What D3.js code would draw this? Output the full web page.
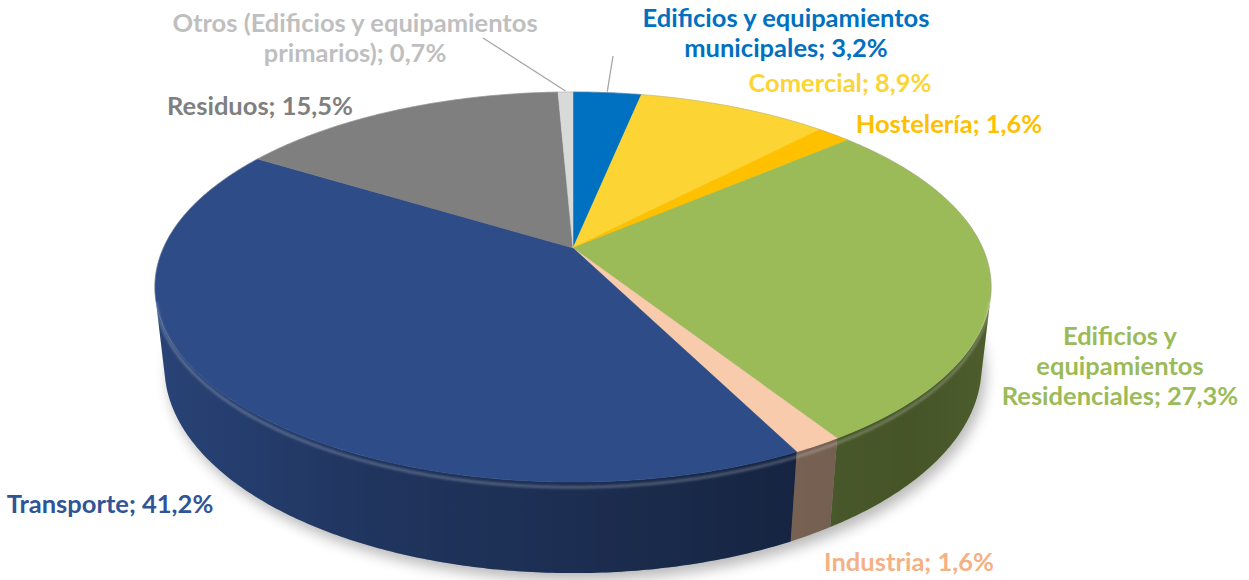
<!DOCTYPE html>
<html>
<head>
<meta charset="utf-8">
<script src="https://cdn.jsdelivr.net/npm/d3@7"></script>
<style>
  body { margin: 0; background: #fff; }
  svg { display: block; }
  text { font-family: Lato, "Open Sans", sans-serif; font-weight: bold; }
</style>
</head>
<body>
<div id="chart"></div>
<script>
// data (clockwise from 12 o'clock)
const categories = ['Edificios y equipamientos municipales', 'Comercial', 'Hostelería',
    'Edificios y equipamientos Residenciales', 'Industria', 'Transporte', 'Residuos',
    'Otros (Edificios y equipamientos primarios)'];
const shares = [3.2, 8.9, 1.6, 27.3, 1.6, 41.2, 15.5, 0.7];
const shareLabels = ['3,2%', '8,9%', '1,6%', '27,3%', '1,6%', '41,2%', '15,5%', '0,7%'];

const sliceColours = ['#0070c0', '#fcd535', '#ffc000', '#9bbb59', '#f8cbad', '#2e4c87', '#7f7f7f', '#d9d9d9'];
const labelColours = ['#0070c0', '#fcd535', '#ffc000', '#9bbb59', '#f4b183', '#2f5597', '#7f7f7f', '#bfbfbf'];

// label placement: first baseline, words on each line but the last, leader line start
const labelLayout = [
     {x: 786, y: 27, lines: [3], leader: [613, 56]},
     {x: 840, y: 92, lines: []},
     {x: 949, y: 133, lines: []},
     {x: 1120, y: 345, lines: [2, 1]},
     {x: 909, y: 571, lines: []},
     {x: 110, y: 513, lines: []},
     {x: 260, y: 115, lines: []},
     {x: 355, y: 32, lines: [4], leader: [483, 38]}
];

const width = 1249;
const height = 580;
const fontSize = 25.5;
const lineGap = 30;

// perspective set-up for the 3D disc
const tilt = 27.2 * Math.PI / 180;
const sinT = Math.sin(tilt), cosT = Math.cos(tilt);
const camDist = 4.445;
const focal = 1821;
const cx = 573, cy = 248;
const thickness = 0.22;

function project(theta, r, z) {
     const x = r * Math.sin(theta), y = r * Math.cos(theta);
     const up = y * sinT + z * cosT;
     const d = y * cosT - z * sinT;
     const k = focal / (camDist + d);
     return [cx + x * k, cy - up * k];
}

function arcPoints(a, b, z) {
     const n = Math.max(2, Math.ceil(Math.abs(b - a) / 0.01));
     return d3.range(n + 1).map(i => project(a + (b - a) * i / n, 1, z));
}

// walls facing the camera
const visLimit = Math.acos(-1 / (camDist * cosT));
const visFrom = visLimit, visTo = 2 * Math.PI - visLimit;

const line = d3.line();

window.onload = function() {

     const svg = d3.select('#chart')
          .append('svg')
               .attr('width', width)
               .attr('height', height);

     const defs = svg.append('defs');

     defs.append('filter')
          .attr('id', 'blur')
          .attr('x', '-20%').attr('y', '-20%')
          .attr('width', '140%').attr('height', '140%')
          .append('feGaussianBlur')
               .attr('stdDeviation', 7);

     defs.append('filter')
          .attr('id', 'soft')
          .append('feGaussianBlur')
               .attr('stdDeviation', 1.2);

     const shade = defs.append('linearGradient')
          .attr('id', 'shade')
          .attr('gradientUnits', 'userSpaceOnUse')
          .attr('x1', 155).attr('x2', 995)
          .attr('y1', 0).attr('y2', 0);
     [[0, 0.12], [0.25, 0.3], [0.5, 0.4], [0.75, 0.52], [0.9, 0.55], [1, 0.5]].forEach(s => {
          shade.append('stop')
               .attr('offset', s[0])
               .attr('stop-color', '#000')
               .attr('stop-opacity', s[1]);
     });

     const arcs = d3.pie()
          .sort(null)
          .value(d => d)(shares);

     // soft shadow under the disc
     svg.append('path')
          .attr('d', line(arcPoints(0, 2 * Math.PI, -thickness)) + 'Z')
          .attr('transform', 'translate(4, 7)')
          .attr('fill', '#000')
          .attr('opacity', 0.28)
          .attr('filter', 'url(#blur)');

     // side walls
     const walls = arcs.map((a, i) => {
          const s = Math.max(a.startAngle, visFrom);
          const e = Math.min(a.endAngle, visTo);
          if (s >= e) return null;
          const pts = arcPoints(s, e, 0).concat(arcPoints(e, s, -thickness));
          return {i: i, d: line(pts) + 'Z'};
     }).filter(w => w);

     const wallG = svg.append('g');
     wallG.selectAll('path.wall')
          .data(walls)
          .enter()
               .append('path')
                    .attr('class', 'wall')
                    .attr('d', w => w.d)
                    .attr('fill', w => sliceColours[w.i]);
     wallG.selectAll('path.shade')
          .data(walls)
          .enter()
               .append('path')
                    .attr('class', 'shade')
                    .attr('d', w => w.d)
                    .attr('fill', 'url(#shade)');

     // top faces
     svg.append('g')
          .selectAll('path')
          .data(arcs)
          .enter()
               .append('path')
                    .attr('d', a => line([[cx, cy]].concat(arcPoints(a.startAngle, a.endAngle, 0))) + 'Z')
                    .attr('fill', (a, i) => sliceColours[i])
                    .attr('stroke', (a, i) => sliceColours[i])
                    .attr('stroke-width', 0.5);

     // bevel highlight along the front rim
     svg.append('path')
          .attr('d', line(arcPoints(visFrom, visTo, -0.012)))
          .attr('fill', 'none')
          .attr('stroke', '#fff')
          .attr('stroke-opacity', 0.22)
          .attr('stroke-width', 3)
          .attr('filter', 'url(#soft)');

     // faint outline on the far rim
     svg.append('path')
          .attr('d', line(arcPoints(visTo - 2 * Math.PI, visFrom, 0)))
          .attr('fill', 'none')
          .attr('stroke', '#9a9a9a')
          .attr('stroke-opacity', 0.5)
          .attr('stroke-width', 0.8);

     // leader lines
     arcs.forEach((a, i) => {
          const lay = labelLayout[i];
          if (!lay.leader) return;
          const end = project((a.startAngle + a.endAngle) / 2, 1, 0);
          svg.append('line')
               .attr('x1', lay.leader[0]).attr('y1', lay.leader[1])
               .attr('x2', end[0]).attr('y2', end[1] - 1)
               .attr('stroke', '#a6a6a6')
               .attr('stroke-width', 1.3);
     });

     // labels
     const labelG = svg.append('g');
     categories.forEach((cat, i) => {
          const lay = labelLayout[i];
          const words = (cat + '; ' + shareLabels[i]).split(' ');
          const text = labelG.append('text')
               .attr('x', lay.x)
               .attr('y', lay.y)
               .attr('text-anchor', 'middle')
               .attr('font-size', fontSize)
               .attr('fill', labelColours[i]);
          const rows = [];
          let w = 0;
          lay.lines.forEach(n => {
               rows.push(words.slice(w, w + n).join(' '));
               w += n;
          });
          rows.push(words.slice(w).join(' '));
          rows.forEach((r, li) => {
               text.append('tspan')
                    .attr('x', lay.x)
                    .attr('dy', li === 0 ? 0 : lineGap)
                    .text(r);
          });
     });
};
</script>
</body>
</html>
